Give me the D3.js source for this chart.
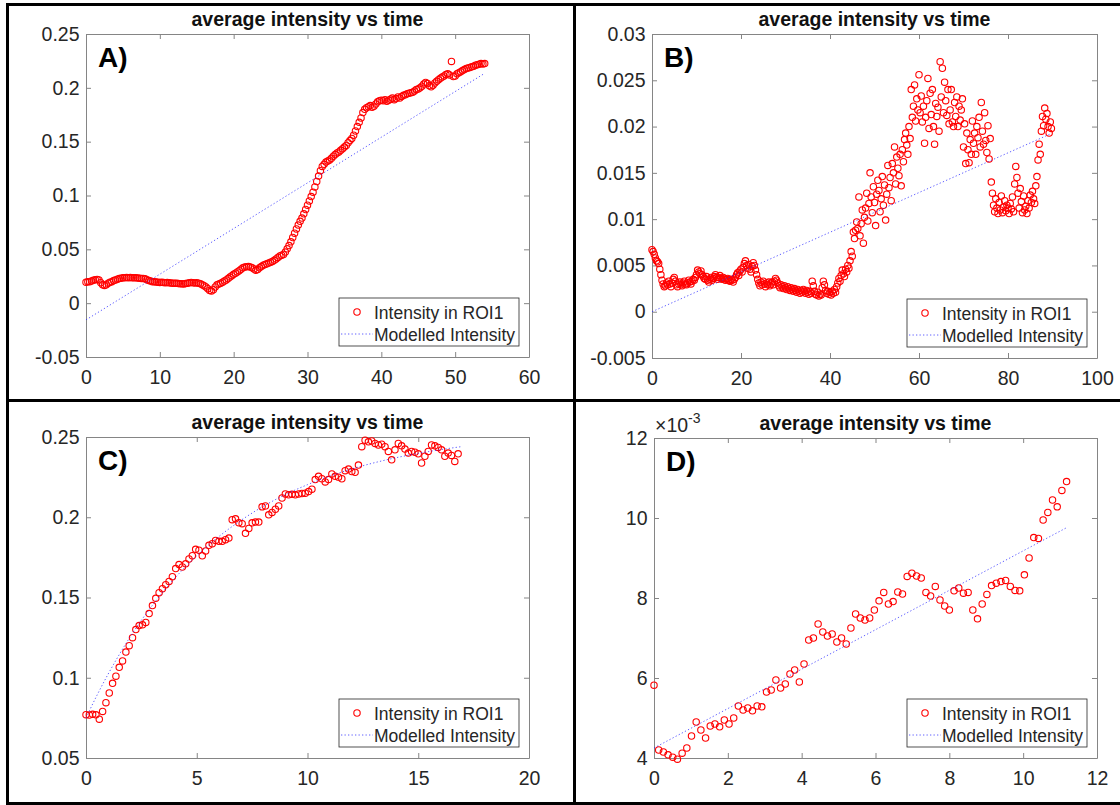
<!DOCTYPE html>
<html>
<head>
<meta charset="utf-8">
<script src="https://cdn.jsdelivr.net/npm/d3@7"></script>
<style>
  body { margin: 0; background: #fff; }
  svg text { font-family: "Liberation Sans", Arial, sans-serif; }
</style>
</head>
<body>
<div id="chart"></div>
<script>

// ---- panel A ----
const frameStepA = 0.25;
const intensityA = [
  0.0195,0.0198,0.0200,0.0205,0.0212,0.0218,0.0220,0.0215,
  0.0190,0.0172,0.0165,0.0170,0.0185,0.0195,0.0200,0.0210,
  0.0215,0.0222,0.0228,0.0232,0.0235,0.0236,0.0238,0.0237,
  0.0238,0.0236,0.0235,0.0237,0.0234,0.0232,0.0228,0.0230,
  0.0226,0.0218,0.0210,0.0205,0.0200,0.0198,0.0196,0.0195,
  0.0193,0.0194,0.0192,0.0190,0.0191,0.0189,0.0187,0.0185,
  0.0186,0.0184,0.0182,0.0180,0.0181,0.0179,0.0183,0.0186,
  0.0190,0.0192,0.0189,0.0187,0.0190,0.0186,0.0180,0.0172,
  0.0162,0.0150,0.0135,0.0118,0.0112,0.0125,0.0150,0.0170,
  0.0178,0.0186,0.0195,0.0205,0.0215,0.0228,0.0242,0.0255,
  0.0268,0.0278,0.0290,0.0302,0.0315,0.0328,0.0335,0.0338,
  0.0340,0.0336,0.0330,0.0318,0.0305,0.0312,0.0328,0.0340,
  0.0352,0.0360,0.0365,0.0372,0.0380,0.0388,0.0398,0.0410,
  0.0425,0.0438,0.0445,0.0452,0.0475,0.0505,0.0535,0.0570,
  0.0610,0.0650,0.0690,0.0725,0.0760,0.0790,0.0830,0.0870,
  0.0910,0.0950,0.0990,0.1030,0.1080,0.1130,0.1180,0.1230,
  0.1270,0.1290,0.1310,0.1320,0.1330,0.1345,0.1365,0.1380,
  0.1395,0.1405,0.1420,0.1435,0.1450,0.1465,0.1490,0.1510,
  0.1530,0.1560,0.1600,0.1640,0.1680,0.1720,0.1770,0.1800,
  0.1815,0.1825,0.1835,0.1820,0.1830,0.1850,0.1870,0.1880,
  0.1885,0.1880,0.1890,0.1875,0.1885,0.1895,0.1905,0.1890,
  0.1900,0.1915,0.1905,0.1920,0.1930,0.1935,0.1945,0.1950,
  0.1955,0.1960,0.1970,0.1985,0.1990,0.2000,0.2015,0.2035,
  0.2050,0.2040,0.2020,0.2010,0.2025,0.2045,0.2060,0.2075,
  0.2090,0.2100,0.2110,0.2125,0.2130,0.2120,0.2245,0.2105,
  0.2110,0.2130,0.2140,0.2150,0.2160,0.2170,0.2180,0.2185,
  0.2190,0.2195,0.2200,0.2210,0.2215,0.2220,0.2225,0.2222,
  0.2225
];
const modelTimeA = [0, 54];
const modelA = [-0.0155, 0.2135];
const xTicksA = [0, 10, 20, 30, 40, 50, 60];
const yTicksA = [-0.05, 0, 0.05, 0.1, 0.15, 0.2, 0.25];
const yLabelsA = ["-0.05", "0", "0.05", "0.1", "0.15", "0.2", "0.25"];

// ---- panel B ----
const frameStepB = 0.25;
const intensityB = [
  0.0067,0.0065,0.0062,0.0058,0.0055,0.0054,0.0052,0.0046,0.0040,0.0034,0.0030,0.0027,
  0.0028,0.0031,0.0029,0.0033,0.0030,0.0027,0.0031,0.0035,0.0037,0.0033,0.0029,0.0027,
  0.0030,0.0032,0.0029,0.0028,0.0031,0.0033,0.0030,0.0029,0.0031,0.0034,0.0032,0.0030,
  0.0033,0.0035,0.0034,0.0037,0.0040,0.0045,0.0043,0.0041,0.0044,0.0040,0.0038,0.0036,
  0.0035,0.0038,0.0034,0.0032,0.0035,0.0037,0.0034,0.0036,0.0038,0.0040,0.0037,0.0035,
  0.0037,0.0039,0.0036,0.0035,0.0037,0.0036,0.0034,0.0035,0.0036,0.0034,0.0033,0.0035,
  0.0034,0.0032,0.0035,0.0037,0.0040,0.0042,0.0039,0.0044,0.0046,0.0043,0.0048,0.0052,
  0.0055,0.0050,0.0047,0.0051,0.0046,0.0043,0.0049,0.0053,0.0050,0.0045,0.0040,0.0035,
  0.0031,0.0028,0.0032,0.0029,0.0033,0.0030,0.0027,0.0031,0.0029,0.0032,0.0028,0.0030,
  0.0032,0.0029,0.0033,0.0036,0.0034,0.0031,0.0028,0.0026,0.0029,0.0027,0.0025,0.0028,
  0.0026,0.0024,0.0027,0.0025,0.0023,0.0026,0.0024,0.0022,0.0025,0.0023,0.0021,0.0024,
  0.0022,0.0020,0.0023,0.0021,0.0024,0.0022,0.0020,0.0023,0.0021,0.0019,0.0022,0.0020,
  0.0033,0.0028,0.0022,0.0019,0.0018,0.0021,0.0017,0.0019,0.0018,0.0026,0.0033,0.0029,
  0.0023,0.0020,0.0022,0.0019,0.0021,0.0018,0.0022,0.0020,0.0024,0.0021,0.0027,0.0031,
  0.0036,0.0033,0.0039,0.0045,0.0041,0.0038,0.0046,0.0043,0.0050,0.0047,0.0055,0.0065,
  0.0060,0.0086,0.0079,0.0088,0.0097,0.0090,0.0124,0.0082,0.0095,0.0110,0.0074,0.0102,
  0.0112,0.0128,0.0098,0.0117,0.0150,0.0124,0.0107,0.0135,0.0118,0.0093,0.0127,0.0142,
  0.0131,0.0108,0.0122,0.0146,0.0115,0.0137,0.0099,0.0127,0.0158,0.0134,0.0145,0.0120,
  0.0160,0.0150,0.0178,0.0138,0.0167,0.0155,0.0147,0.0170,0.0136,0.0175,0.0162,0.0186,
  0.0193,0.0180,0.0170,0.0200,0.0187,0.0240,0.0210,0.0222,0.0245,0.0206,0.0230,0.0218,
  0.0256,0.0215,0.0233,0.0205,0.0222,0.0182,0.0210,0.0228,0.0252,0.0198,0.0236,0.0213,
  0.0240,0.0200,0.0181,0.0225,0.0211,0.0221,0.0195,0.0270,0.0232,0.0263,0.0215,0.0248,
  0.0228,0.0212,0.0240,0.0203,0.0218,0.0240,0.0205,0.0200,0.0226,0.0211,0.0232,0.0200,
  0.0222,0.0207,0.0218,0.0230,0.0178,0.0203,0.0160,0.0193,0.0175,0.0161,0.0186,0.0170,
  0.0206,0.0182,0.0193,0.0170,0.0200,0.0188,0.0210,0.0178,0.0226,0.0195,0.0181,0.0215,
  0.0185,0.0172,0.0201,0.0165,0.0187,0.0140,0.0128,0.0115,0.0108,0.0122,0.0112,0.0106,
  0.0118,0.0110,0.0125,0.0107,0.0113,0.0120,0.0109,0.0115,0.0112,0.0106,0.0117,0.0111,
  0.0124,0.0108,0.0138,0.0157,0.0145,0.0128,0.0112,0.0133,0.0119,0.0107,0.0125,0.0110,
  0.0114,0.0106,0.0120,0.0112,0.0126,0.0118,0.0130,0.0122,0.0117,0.0136,0.0146,0.0164,
  0.0181,0.0170,0.0195,0.0211,0.0201,0.0220,0.0208,0.0214,0.0200,0.0193,0.0205,0.0198
];
const modelTimeB = [0, 89.5];
const modelB = [0, 0.0192];
const xTicksB = [0, 20, 40, 60, 80, 100];
const yTicksB = [-0.005, 0, 0.005, 0.01, 0.015, 0.02, 0.025, 0.03];
const yLabelsB = ["-0.005", "0", "0.005", "0.01", "0.015", "0.02", "0.025", "0.03"];

// ---- panel C ----
const frameStepC = 0.15;
const intensityC = [
  0.0770,0.0768,0.0772,0.0769,0.0742,0.0790,0.0845,0.0905,0.0965,0.1010,
  0.1065,0.1105,0.1160,0.1200,0.1250,0.1300,0.1325,0.1330,0.1345,0.1400,
  0.1450,0.1495,0.1530,0.1555,0.1580,0.1600,0.1630,0.1680,0.1705,0.1690,
  0.1710,0.1740,0.1760,0.1800,0.1795,0.1760,0.1790,0.1825,0.1835,0.1855,
  0.1850,0.1850,0.1860,0.1870,0.1985,0.1990,0.1965,0.1960,0.1900,0.1930,
  0.1965,0.1970,0.1970,0.2065,0.2070,0.2015,0.2030,0.2050,0.2070,0.2120,
  0.2145,0.2140,0.2143,0.2140,0.2145,0.2148,0.2150,0.2160,0.2175,0.2235,
  0.2255,0.2240,0.2220,0.2235,0.2270,0.2255,0.2250,0.2240,0.2290,0.2300,
  0.2285,0.2280,0.2325,0.2440,0.2480,0.2470,0.2475,0.2460,0.2450,0.2455,
  0.2440,0.2410,0.2358,0.2420,0.2460,0.2445,0.2425,0.2400,0.2410,0.2405,
  0.2395,0.2338,0.2380,0.2410,0.2450,0.2445,0.2435,0.2420,0.2380,0.2400,
  0.2385,0.2348,0.2395
];
const modelTimeC = [0, 0.5, 1, 1.5, 2, 3, 4, 5, 6, 7, 8, 9, 10, 11, 12, 13, 14, 15, 16, 16.9];
const modelC = [0.0750, 0.0892, 0.1023, 0.1144, 0.1256, 0.1452, 0.1619, 0.1760, 0.1880, 0.1981,
                0.2068, 0.2141, 0.2203, 0.2256, 0.2301, 0.2339, 0.2371, 0.2398, 0.2421, 0.2439];
const xTicksC = [0, 5, 10, 15, 20];
const yTicksC = [0.05, 0.1, 0.15, 0.2, 0.25];
const yLabelsC = ["0.05", "0.1", "0.15", "0.2", "0.25"];

// ---- panel D ----
const frameStepD = 0.127;
const intensityD = [
  0.00582,0.00420,0.00415,0.00408,0.00402,0.00397,0.00412,0.00425,0.00455,0.00490,
  0.00470,0.00450,0.00480,0.00485,0.00478,0.00495,0.00485,0.00500,0.00530,0.00520,
  0.00525,0.00518,0.00530,0.00528,0.00565,0.00570,0.00595,0.00575,0.00585,0.00610,
  0.00620,0.00590,0.00635,0.00695,0.00700,0.00735,0.00715,0.00705,0.00710,0.00690,
  0.00700,0.00685,0.00725,0.00760,0.00750,0.00745,0.00750,0.00770,0.00793,0.00814,
  0.00785,0.00791,0.00815,0.00810,0.00854,0.00862,0.00855,0.00850,0.00814,0.00805,
  0.00829,0.00795,0.00780,0.00770,0.00818,0.00825,0.00812,0.00814,0.00770,0.00748,
  0.00785,0.00809,0.00831,0.00837,0.00841,0.00844,0.00829,0.00819,0.00818,0.00858,
  0.00900,0.00951,0.00949,0.00995,0.01014,0.01045,0.01028,0.01069,0.01091
];
const modelTimeD = [0, 11.18];
const modelD = [0.00425, 0.00976];
const xTicksD = [0, 2, 4, 6, 8, 10, 12];
const yTicksD = [0.004, 0.006, 0.008, 0.010, 0.012];
const yLabelsD = ["4", "6", "8", "10", "12"];

const titleText = "average intensity vs time";
const legendLabels = ["Intensity in ROI1", "Modelled Intensity"];

const axisColor = "#858585";
const textColor = "#262626";
const markerColor = "#ff0000";
const modelColor = "#2b2bff";
const markerR = 3.2;

const svg = d3.select("#chart")
  .append("svg")
  .attr("width", 1120)
  .attr("height", 805)
  .style("background", "#fff");

const panels = [
  { tag: "A)", left: 86, right: 529, top: 34, bottom: 357, xDomain: [0, 60], yDomain: [-0.05, 0.25],
    xTicks: xTicksA, yTicks: yTicksA, yLabels: yLabelsA, step: frameStepA, values: intensityA,
    modelTime: modelTimeA, model: modelA },
  { tag: "B)", left: 652, right: 1097, top: 34, bottom: 358, xDomain: [0, 100], yDomain: [-0.005, 0.03],
    xTicks: xTicksB, yTicks: yTicksB, yLabels: yLabelsB, step: frameStepB, values: intensityB,
    modelTime: modelTimeB, model: modelB },
  { tag: "C)", left: 86, right: 529, top: 437, bottom: 758, xDomain: [0, 20], yDomain: [0.05, 0.25],
    xTicks: xTicksC, yTicks: yTicksC, yLabels: yLabelsC, step: frameStepC, values: intensityC,
    modelTime: modelTimeC, model: modelC, smooth: true },
  { tag: "D)", left: 654, right: 1097, top: 438, bottom: 758, xDomain: [0, 12], yDomain: [0.004, 0.012],
    xTicks: xTicksD, yTicks: yTicksD, yLabels: yLabelsD, step: frameStepD, values: intensityD,
    modelTime: modelTimeD, model: modelD, exponent: "-3" }
];

function styleAxis(sel) {
  sel.attr("font-size", "19.5px").attr("font-family", null);
  sel.selectAll(".domain, .tick line").attr("stroke", axisColor).attr("stroke-width", 1);
  sel.selectAll("text").attr("fill", textColor);
}

function drawPanel(p) {
  const x = d3.scaleLinear().domain(p.xDomain).range([p.left, p.right]);
  const y = d3.scaleLinear().domain(p.yDomain).range([p.bottom, p.top]);
  const g = svg.append("g");

  // box with inward ticks on all four sides
  g.append("g")
    .attr("transform", "translate(0," + p.bottom + ")")
    .call(d3.axisBottom(x).tickValues(p.xTicks).tickSizeInner(-5).tickSizeOuter(0)
      .tickPadding(13).tickFormat(d => String(d)))
    .call(styleAxis);
  g.append("g")
    .attr("transform", "translate(0," + p.top + ")")
    .call(d3.axisTop(x).tickValues(p.xTicks).tickSizeInner(-5).tickSizeOuter(0).tickFormat(""))
    .call(styleAxis);
  g.append("g")
    .attr("transform", "translate(" + p.left + ",0)")
    .call(d3.axisLeft(y).tickValues(p.yTicks).tickSizeInner(-5).tickSizeOuter(0)
      .tickPadding(6.5).tickFormat((d, i) => p.yLabels[i]))
    .call(styleAxis);
  g.append("g")
    .attr("transform", "translate(" + p.right + ",0)")
    .call(d3.axisRight(y).tickValues(p.yTicks).tickSizeInner(-5).tickSizeOuter(0).tickFormat(""))
    .call(styleAxis);

  const times = p.values.map((d, i) => i * p.step);

  g.append("g")
    .selectAll("circle")
    .data(p.values)
    .join("circle")
    .attr("cx", (d, i) => x(times[i]))
    .attr("cy", d => y(d))
    .attr("r", markerR)
    .attr("fill", "none")
    .attr("stroke", markerColor)
    .attr("stroke-width", 1.1);

  const modelLine = d3.line()
    .x((d, i) => x(p.modelTime[i]))
    .y(d => y(d))
    .curve(p.smooth ? d3.curveMonotoneX : d3.curveLinear);

  g.append("path")
    .datum(p.model)
    .attr("d", modelLine)
    .attr("fill", "none")
    .attr("stroke", modelColor)
    .attr("stroke-width", 1)
    .attr("stroke-dasharray", "1.3,2.2")
    .attr("stroke-opacity", 0.75);

  // title
  g.append("text")
    .attr("x", (p.left + p.right) / 2)
    .attr("y", p.top - 8)
    .attr("text-anchor", "middle")
    .attr("font-size", "19.5px")
    .attr("font-weight", "bold")
    .attr("fill", "#111")
    .text(titleText);

  // panel letter
  g.append("text")
    .attr("x", p.left + 12)
    .attr("y", p.top + 33)
    .attr("font-size", "28px")
    .attr("font-weight", "bold")
    .attr("fill", "#000")
    .text(p.tag);

  if (p.exponent) {
    const ex = g.append("text")
      .attr("x", p.left + 1)
      .attr("y", p.top - 6)
      .attr("font-size", "19.5px")
      .attr("fill", textColor);
    ex.append("tspan").text("\u00d710");
    ex.append("tspan").attr("font-size", "14px").attr("dy", -9).text(p.exponent);
  }

  // legend
  const lw = 180, lh = 48;
  const lx = p.right - 10 - lw, ly = p.bottom - 11 - lh;
  const lg = g.append("g").attr("transform", "translate(" + lx + "," + ly + ")");
  lg.append("rect")
    .attr("width", lw).attr("height", lh)
    .attr("fill", "#fff")
    .attr("stroke", "#262626")
    .attr("stroke-width", 0.8);
  lg.append("circle")
    .attr("cx", 18).attr("cy", 14).attr("r", markerR)
    .attr("fill", "none").attr("stroke", markerColor).attr("stroke-width", 1.1);
  lg.append("line")
    .attr("x1", 2).attr("x2", 34).attr("y1", 36).attr("y2", 36)
    .attr("stroke", modelColor).attr("stroke-width", 1)
    .attr("stroke-dasharray", "1.3,2.2").attr("stroke-opacity", 0.75);
  lg.selectAll("text.leg")
    .data(legendLabels)
    .join("text")
    .attr("class", "leg")
    .attr("x", 35)
    .attr("y", (d, i) => 20.5 + i * 22.5)
    .attr("font-size", "17.5px")
    .attr("fill", textColor)
    .text(d => d);
}

panels.forEach(drawPanel);

// black frames round the four panels
const frame = svg.append("g").attr("stroke", "#000").attr("stroke-width", 3);
frame.append("line").attr("x1", 6).attr("x2", 1120).attr("y1", 4.5).attr("y2", 4.5);
frame.append("line").attr("x1", 6).attr("x2", 1120).attr("y1", 400.5).attr("y2", 400.5);
frame.append("line").attr("x1", 6).attr("x2", 1120).attr("y1", 803.5).attr("y2", 803.5);
frame.append("line").attr("x1", 7.5).attr("x2", 7.5).attr("y1", 3).attr("y2", 805);
frame.append("line").attr("x1", 574.5).attr("x2", 574.5).attr("y1", 3).attr("y2", 805);

</script>
</body>
</html>
